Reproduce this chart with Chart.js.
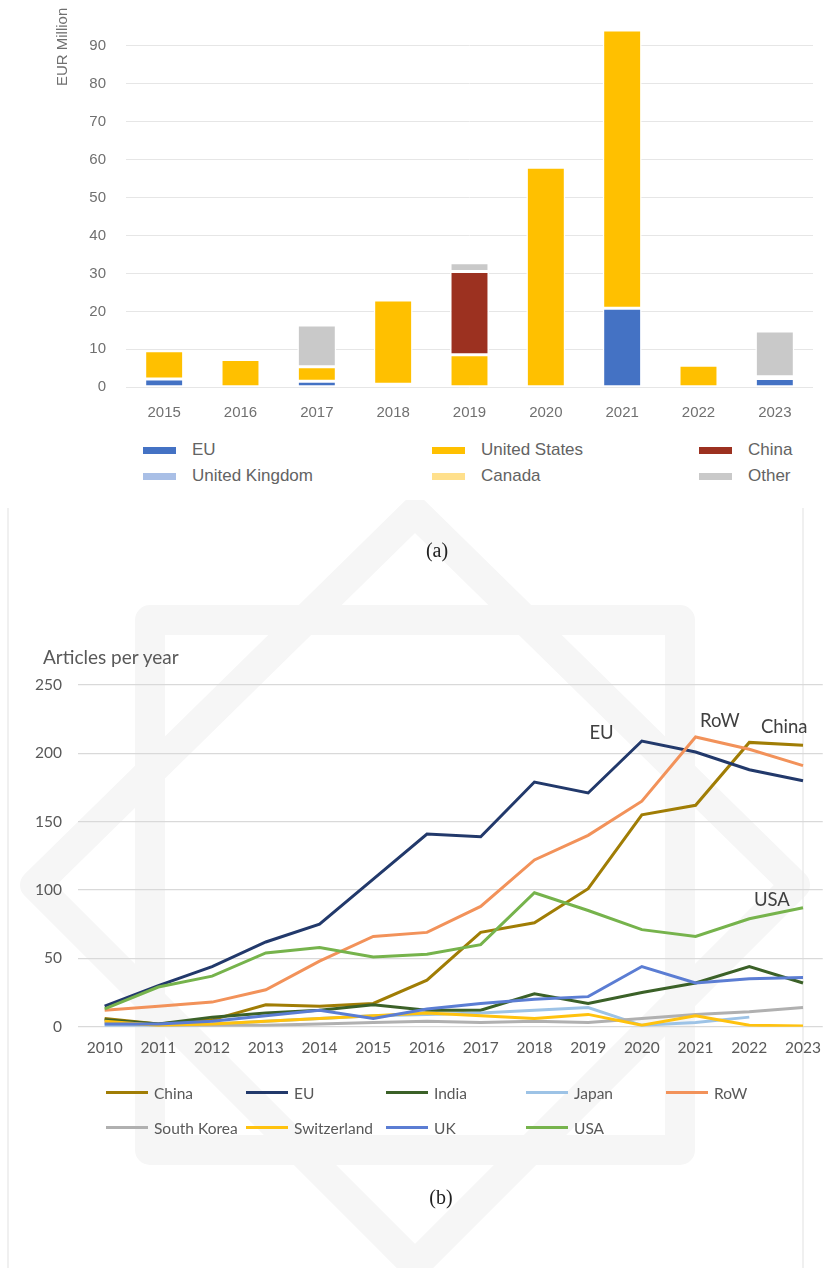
<!DOCTYPE html>
<html>
<head>
<meta charset="utf-8">
<title>Investment and articles per year</title>
<script src="https://cdn.jsdelivr.net/npm/chart.js@4.4.1/dist/chart.umd.min.js"></script>
<style>
  html, body { margin: 0; padding: 0; background: #fff; }
  body { width: 833px; height: 1268px; position: relative; overflow: hidden; }
  canvas { position: absolute; left: 0; }
  #chartA { top: 0; }
  #chartB { top: 500px; }
  .legend-a {
    position: absolute; left: 143px; top: 437px;
    display: grid; grid-auto-flow: column;
    grid-template-rows: 26px 26px; grid-template-columns: 289px 267px 130px;
    font-family: "Liberation Sans", Arial, sans-serif; font-size: 17px; color: #636363;
  }
  .legend-a .item { display: flex; align-items: center; white-space: nowrap; }
  .legend-a .swatch { width: 33px; height: 7px; margin-right: 16px; }
  .legend-b {
    position: absolute; left: 106px; top: 1075px;
    display: grid; grid-template-columns: repeat(5, 140px); grid-auto-rows: 35px;
    font-family: Lato, "Open Sans", sans-serif; font-size: 15.5px; color: #595959;
  }
  .legend-b .item { display: flex; align-items: center; white-space: nowrap; }
  .legend-b .swatch { width: 42px; height: 3px; margin-right: 6px; }
  .title-b {
    position: absolute; left: 43px; top: 645px;
    font-family: Lato, "Open Sans", sans-serif; font-size: 19px; line-height: 24px; color: #595959;
  }
  .caption {
    position: absolute; width: 80px; text-align: center;
    font-family: "Liberation Serif", "DejaVu Serif", serif; font-size: 20px; line-height: 24px; color: #222;
  }
</style>
</head>
<body>
<canvas id="chartB" width="833" height="768"></canvas>
<canvas id="chartA" width="833" height="430"></canvas>
<div class="legend-a" id="legendA"></div>
<div class="caption" style="left:397px; top:538px;">(a)</div>
<div class="title-b">Articles per year</div>
<div class="legend-b" id="legendB"></div>
<div class="caption" style="left:401px; top:1185px;">(b)</div>

<script>
// ---- (a) investment by origin, EUR million ----
const fundingYears = ['2015', '2016', '2017', '2018', '2019', '2020', '2021', '2022', '2023'];
const fundEU     = [2.2, 0, 1.6, 0.8, 0, 0, 20.8, 0, 2.3];
const fundUK     = [0, 0, 0, 0, 0, 0, 0, 0, 0.5];
const fundUS     = [7.4, 7.3, 3.8, 22.2, 8.6, 58.0, 73.3, 5.8, 0];
const fundCanada = [0, 0, 0, 0, 0, 0, 0, 0, 0];
const fundChina  = [0, 0, 0, 0, 21.9, 0, 0, 0, 0];
const fundOther  = [0, 0, 11.0, 0, 2.3, 0, 0, 0, 12.0];

// ---- (b) articles per year by region ----
const articleYears = [2010, 2011, 2012, 2013, 2014, 2015, 2016, 2017, 2018, 2019, 2020, 2021, 2022, 2023];
const artChina       = [6, 2, 5, 16, 15, 17, 34, 69, 76, 101, 155, 162, 208, 206];
const artEU          = [15, 30, 44, 62, 75, 108, 141, 139, 179, 171, 209, 201, 188, 180];
const artIndia       = [5, 2, 7, 10, 12, 16, 12, 12, 24, 17, 25, 32, 44, 32];
const artJapan       = [1, 1, 2, 4, 6, 8, 9, 10, 12, 14, 1, 3, 7, null];
const artRoW         = [12, 15, 18, 27, 48, 66, 69, 88, 122, 140, 165, 212, 203, 191];
const artSouthKorea  = [3, 1, 1, 1, 2, 3, 4, 3, 4, 3, 6, 9, 11, 14];
const artSwitzerland = [4, 1, 2, 4, 6, 8, 10, 8, 6, 9, 1, 8, 1, 0.5];
const artUK          = [2, 2, 4, 8, 12, 6, 13, 17, 20, 22, 44, 32, 35, 36];
const artUSA         = [13, 29, 37, 54, 58, 51, 53, 60, 98, 85, 71, 66, 79, 87];

const articleAxisTicks = [0, 50, 100, 150, 200, 250];

const fontA = '"Liberation Sans", Arial, sans-serif';
const fontB = 'Lato, "Open Sans", sans-serif';

const fundingSeries = [
  { label: 'EU', data: fundEU, color: '#4472c4' },
  { label: 'United Kingdom', data: fundUK, color: '#a9bfe6' },
  { label: 'United States', data: fundUS, color: '#ffc000' },
  { label: 'Canada', data: fundCanada, color: '#ffe08c' },
  { label: 'China', data: fundChina, color: '#9c3120' },
  { label: 'Other', data: fundOther, color: '#c9c9c9' }
];

const articleSeries = [
  { label: 'China', data: artChina, color: '#a07d05' },
  { label: 'EU', data: artEU, color: '#22396b' },
  { label: 'India', data: artIndia, color: '#3b6128' },
  { label: 'Japan', data: artJapan, color: '#9dc3e6' },
  { label: 'RoW', data: artRoW, color: '#f2925a' },
  { label: 'South Korea', data: artSouthKorea, color: '#b0b0b0' },
  { label: 'Switzerland', data: artSwitzerland, color: '#ffc20e' },
  { label: 'UK', data: artUK, color: '#5b7dd3' },
  { label: 'USA', data: artUSA, color: '#76b34c' }
];

// names written next to the main curves
const curveNotes = [
  { text: 'EU', x: 2019.25, y: 215 },
  { text: 'RoW', x: 2021.45, y: 224 },
  { text: 'China', x: 2022.65, y: 219 },
  { text: 'USA', x: 2022.42, y: 93 }
];

// faint ornament behind the line chart
const ornament = {
  id: 'ornament',
  beforeDraw(chart) {
    const ctx = chart.ctx;
    ctx.save();
    ctx.strokeStyle = '#f6f6f6';
    ctx.lineWidth = 30;
    ctx.lineJoin = 'round';
    ctx.beginPath();
    ctx.moveTo(415, 12); ctx.lineTo(795, 385); ctx.lineTo(415, 765); ctx.lineTo(35, 385); ctx.closePath();
    ctx.stroke();
    ctx.strokeRect(150, 120, 530, 530);
    ctx.strokeStyle = '#ececec';
    ctx.lineWidth = 1.5;
    ctx.beginPath();
    ctx.moveTo(8, 8); ctx.lineTo(8, 768);
    ctx.moveTo(803, 8); ctx.lineTo(803, 768);
    ctx.stroke();
    ctx.restore();
  }
};

const notesPlugin = {
  id: 'curveNotes',
  afterDatasetsDraw(chart) {
    const { ctx, scales: { x, y } } = chart;
    ctx.save();
    ctx.font = '18.5px ' + fontB;
    ctx.fillStyle = '#404040';
    ctx.textAlign = 'center';
    ctx.textBaseline = 'middle';
    curveNotes.forEach(n => ctx.fillText(n.text, x.getPixelForValue(n.x), y.getPixelForValue(n.y)));
    ctx.restore();
  }
};

// fixed axis box, no extra room reserved for the end labels
function fixWidth(w) {
  return s => { s.width = w; s.paddingTop = 0; s.paddingBottom = 0; };
}

new Chart(document.getElementById('chartA'), {
  type: 'bar',
  data: {
    labels: fundingYears,
    datasets: fundingSeries.map(s => ({
      label: s.label,
      data: s.data,
      backgroundColor: s.color,
      borderColor: '#ffffff',
      borderWidth: 1.5,
      borderSkipped: false,
      barPercentage: 0.51,
      categoryPercentage: 1
    }))
  },
  options: {
    responsive: false,
    animation: false,
    layout: { padding: { left: 0, right: 20, top: 7.7, bottom: 0 } },
    plugins: { legend: { display: false }, tooltip: { enabled: false } },
    scales: {
      x: {
        stacked: true,
        grid: { display: false, drawTicks: false },
        border: { display: false },
        ticks: { color: '#707070', font: { family: fontA, size: 15 }, padding: 17 },
        afterFit: s => { s.height = 42.7; }
      },
      y: {
        stacked: true,
        min: 0,
        max: 100,
        ticks: {
          stepSize: 10,
          color: '#707070',
          font: { family: fontA, size: 15 },
          padding: 20,
          callback: v => (v >= 100 ? '' : v)
        },
        grid: {
          drawTicks: false,
          color: c => (c.tick && c.tick.value >= 100 ? 'rgba(0,0,0,0)' : '#e6e6e6')
        },
        border: { display: false },
        title: {
          display: true,
          text: 'EUR Million',
          align: 'end',
          color: '#707070',
          font: { family: fontA, size: 15 },
          padding: { top: 54, bottom: 0 }
        },
        afterFit: fixWidth(126)
      }
    }
  }
});

new Chart(document.getElementById('chartB'), {
  type: 'line',
  data: {
    datasets: articleSeries.map((s, i) => ({
      label: s.label,
      data: articleYears.map((yr, k) => ({ x: yr, y: s.data[k] })),
      borderColor: s.color,
      backgroundColor: s.color,
      borderWidth: 3,
      pointRadius: 0,
      tension: 0,
      order: articleSeries.length - i
    }))
  },
  options: {
    responsive: false,
    animation: false,
    layout: { padding: { left: 0, right: 0, top: 185, bottom: 198 } },
    plugins: { legend: { display: false }, tooltip: { enabled: false } },
    scales: {
      x: {
        type: 'linear',
        min: 2009.504,
        max: 2023.367,
        grid: { display: false, drawTicks: false },
        border: { display: false },
        afterBuildTicks: s => { s.ticks = articleYears.map(v => ({ value: v })); },
        ticks: { color: '#595959', font: { family: fontB, size: 15.5 }, padding: 12, callback: v => String(v) },
        afterFit: s => { s.height = 43.3; }
      },
      y: {
        min: 0,
        max: 250,
        afterBuildTicks: s => { s.ticks = articleAxisTicks.map(v => ({ value: v })); },
        ticks: { color: '#595959', font: { family: fontB, size: 15.5 }, padding: 16 },
        grid: { drawTicks: false, color: '#d9d9d9', lineWidth: 1.2 },
        border: { display: false },
        afterFit: fixWidth(78)
      }
    }
  },
  plugins: [ornament, notesPlugin]
});

// legends built from the dataset lists
const legendA = document.getElementById('legendA');
fundingSeries.forEach(s => {
  const item = document.createElement('div');
  item.className = 'item';
  item.innerHTML = `<span class="swatch" style="background:${s.color}"></span><span>${s.label}</span>`;
  legendA.appendChild(item);
});

const legendB = document.getElementById('legendB');
articleSeries.forEach(s => {
  const item = document.createElement('div');
  item.className = 'item';
  item.innerHTML = `<span class="swatch" style="background:${s.color}"></span><span>${s.label}</span>`;
  legendB.appendChild(item);
});
</script>
</body>
</html>
